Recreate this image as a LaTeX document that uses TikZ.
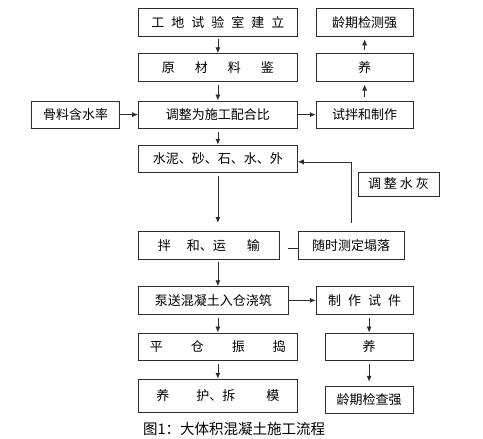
\documentclass[tikz,border=0pt]{standalone}
\usepackage{fontspec}
\newfontfamily\cjk{Noto Sans CJK SC}
\usetikzlibrary{arrows.meta,positioning}
\definecolor{FlowGray}{RGB}{45,45,45}
\newcommand{\gp}[1]{\hspace{#1pt}}

\begin{document}
\begin{tikzpicture}[
    stage/.style={draw=FlowGray, line width=0.75pt, minimum height=27.5pt, inner sep=0pt, font=\cjk\fontsize{13}{15}\selectfont},
    main/.style={stage, minimum width=159pt},
    side/.style={stage, minimum width=97pt},
    arr/.style={-{Latex[length=6pt,width=5pt]}, line width=0.75pt, FlowGray, shorten <=3pt},
    link/.style={line width=0.75pt, FlowGray},
    node distance=19pt and 18pt
  ]
    \useasboundingbox (0,0) rectangle (483pt,-439pt);

    % Main column
    \node[main, anchor=north west] (lab) at (138pt,-8pt) {工\gp{7}地\gp{7}试\gp{7}验\gp{7}室\gp{7}建\gp{7}立};
    \node[main, below=17pt of lab] (raw) {原\gp{20}材\gp{20}料\gp{20}鉴};
    \node[main, below=of raw] (mix) {调整为施工配合比};
    \node[main, below=16pt of mix] (cem) {水泥、砂、石、水、外};
    \node[stage, minimum width=141pt, below=58pt of cem.south west, anchor=north west] (stir) {拌\gp{16}和、运\gp{21}输};
    \node[stage, minimum width=150pt, below=27pt of stir.south west, anchor=north west] (pump) {泵送混凝土入仓浇筑};
    \node[main, below=18pt of pump.south west, anchor=north west] (level) {平\gp{28}仓\gp{28}振\gp{28}捣};
    \node[main, minimum height=33pt, below=18pt of level] (cure) {养\gp{27}护、拆\gp{31}模};

    % Side boxes
    \node[stage, minimum width=88pt, left=of mix] (moist) {骨料含水率};
    \node[side, right=of mix] (trial) {试拌和制作};
    \node[side, above=of trial] (rcure) {养};
    \node[side, above=17pt of rcure] (rtest) {龄期检测强};
    \node[stage, minimum width=106pt, right=of stir] (slump) {随时测定塌落};
    \node[stage, minimum width=81pt, minimum height=24pt] (wcr) at (398.5pt,-184pt) {调\gp{3}整\gp{3}水\gp{3}灰};
    \node[side, right=27pt of pump] (spec) {制\gp{7}作\gp{7}试\gp{7}件};
    \node[stage, minimum width=88pt, below=18pt of spec.south east, anchor=north east] (scure) {养};
    \node[stage, minimum width=88pt, below=25pt of scure] (sage) {龄期检查强};

    \node[font=\cjk\fontsize{14.5}{16}\selectfont, anchor=west, inner sep=0pt] (cap) at (143pt,-429pt) {图1：大体积混凝土施工流程};

    % Arrows
    \draw[arr] (lab) -- (raw);
    \draw[arr] (raw) -- (mix);
    \draw[arr, shorten <=0pt] (moist) -- (mix);
    \draw[arr, shorten <=0pt] (mix) -- (trial);
    \draw[arr, shorten <=4pt, shorten >=3pt] (trial) -- (rcure);
    \draw[arr, shorten <=3pt, shorten >=3pt] (rcure) -- (rtest);
    \draw[arr] (mix) -- (cem);
    \draw[arr, shorten >=8pt] (cem.south) -- (cem.south |- stir.north);
    \draw[arr, shorten <=0pt] ([yshift=8pt]slump.north) |- ([yshift=-3pt]cem.east);
    \draw[link] ([shift={(8pt,-3pt)}]stir.east) -- ([yshift=-3pt]slump.west);
    \draw[arr] (cem.south |- stir.south) -- (cem.south |- pump.north);
    \draw[arr, shorten <=0pt] (pump) -- (spec);
    \draw[arr] (cem.south |- pump.south) -- (level);
    \draw[arr] (level) -- (cure);
    \draw[arr] (scure.north |- spec.south) -- (scure.north);
    \draw[arr, shorten >=4pt] (scure) -- (sage);
\end{tikzpicture}
\end{document}
